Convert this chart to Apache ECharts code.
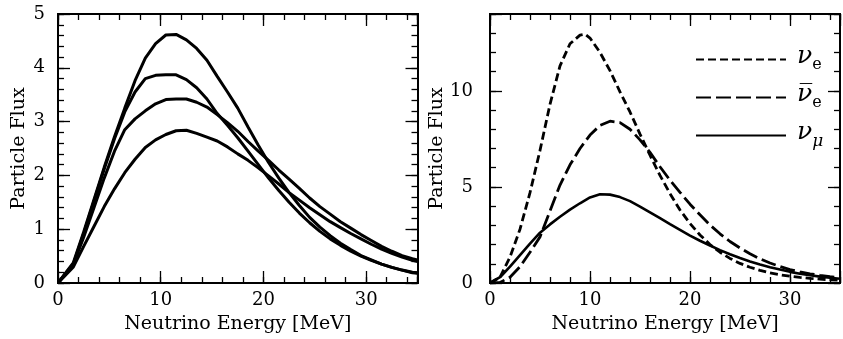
<!DOCTYPE html>
<html>
<head>
<meta charset="utf-8">
<script src="https://cdn.jsdelivr.net/npm/echarts@6/dist/echarts.min.js"></script>
<style>
html,body{margin:0;padding:0;background:#fff;}
#c{width:843px;height:339px;}
</style>
</head>
<body>
<div id="c"></div>
<script>
// ---- Left panel: four spectra, sampled at these energies (MeV) ----
var leftE = [0, 1.5, 2.5, 3.5, 4.5, 5.5, 6.5, 7.5, 8.5, 9.5, 10.5, 11.5, 12.5, 13.5, 14.5, 15.5, 16.5, 17.5, 18.5, 19.5, 20.5, 21.5, 22.5, 23.5, 24.5, 25.5, 26.5, 27.5, 28.5, 29.5, 30.5, 31.5, 32.5, 33.5, 34.5, 35];
var leftA = [0, 0.38, 0.95, 1.55, 2.15, 2.72, 3.25, 3.76, 4.18, 4.45, 4.61, 4.62, 4.52, 4.36, 4.14, 3.84, 3.55, 3.25, 2.90, 2.56, 2.24, 1.95, 1.68, 1.44, 1.22, 1.04, 0.88, 0.74, 0.62, 0.51, 0.43, 0.35, 0.29, 0.24, 0.19, 0.18];
var leftB = [0, 0.36, 0.92, 1.52, 2.12, 2.68, 3.18, 3.55, 3.80, 3.86, 3.87, 3.87, 3.78, 3.63, 3.42, 3.15, 2.93, 2.70, 2.45, 2.20, 1.95, 1.72, 1.50, 1.30, 1.12, 0.96, 0.82, 0.70, 0.59, 0.50, 0.42, 0.35, 0.29, 0.24, 0.20, 0.19];
var leftC = [0, 0.35, 0.85, 1.40, 1.95, 2.45, 2.85, 3.05, 3.20, 3.33, 3.41, 3.42, 3.42, 3.36, 3.27, 3.13, 2.98, 2.82, 2.63, 2.45, 2.28, 2.10, 1.93, 1.76, 1.58, 1.42, 1.28, 1.14, 1.02, 0.90, 0.79, 0.68, 0.59, 0.51, 0.45, 0.43];
var leftD = [0, 0.30, 0.68, 1.05, 1.42, 1.75, 2.05, 2.30, 2.52, 2.66, 2.76, 2.83, 2.84, 2.78, 2.71, 2.64, 2.53, 2.40, 2.28, 2.14, 1.99, 1.84, 1.68, 1.54, 1.40, 1.27, 1.14, 1.03, 0.92, 0.82, 0.72, 0.63, 0.55, 0.48, 0.42, 0.40];

// ---- Right panel: nu_e, anti-nu_e, nu_mu ----
var rightE = [0, 1, 2, 3, 4, 5, 6, 7, 8, 9, 9.5, 10, 11, 12, 13, 14, 15, 16, 17, 18, 19, 20, 21, 22, 23, 24, 25, 26, 27, 28, 29, 30, 31, 32, 33, 34, 35];
var nuE    = [0, 0.30, 1.35, 2.80, 4.70, 6.90, 9.30, 11.3, 12.45, 12.9, 12.95, 12.75, 12.0, 11.05, 9.95, 8.90, 7.75, 6.65, 5.60, 4.65, 3.80, 3.10, 2.50, 2.00, 1.60, 1.28, 1.02, 0.82, 0.66, 0.53, 0.43, 0.35, 0.29, 0.24, 0.20, 0.17, 0.14];
var nuEbar = [0, 0.03, 0.30, 0.85, 1.60, 2.40, 3.75, 5.10, 6.15, 7.00, 7.35, 7.70, 8.20, 8.42, 8.35, 8.00, 7.45, 6.80, 6.05, 5.35, 4.72, 4.10, 3.55, 3.02, 2.56, 2.16, 1.82, 1.52, 1.26, 1.04, 0.86, 0.70, 0.58, 0.48, 0.40, 0.33, 0.28];
var nuMu   = [0, 0.30, 0.85, 1.45, 2.05, 2.62, 3.05, 3.45, 3.82, 4.15, 4.30, 4.45, 4.62, 4.60, 4.47, 4.26, 3.98, 3.68, 3.38, 3.07, 2.77, 2.47, 2.20, 1.95, 1.71, 1.50, 1.30, 1.12, 0.96, 0.82, 0.70, 0.58, 0.48, 0.40, 0.33, 0.27, 0.22];

var xTicksMajor = 10, xTicksMinor = 2;
var leftYMajor = 1, leftYMinor = 0.2;
var rightYMajor = 5, rightYMinor = 1;
var xName = 'Neutrino Energy [MeV]';
var yName = 'Particle Flux';
var seriesNames = ['nue', 'nuebar', 'numu'];
var legendText = {
  nue: '{nu|\u03bd}{sub|e}',
  nuebar: '{nu|\u03bd\u0305}{sub|e}',
  numu: '{nu|\u03bd}{subi|\u03bc}'
};

function zip(xs, ys) { return xs.map(function (x, i) { return [x, ys[i]]; }); }

var FONT = 'DejaVu Serif';
var black = '#000';

function xAxes(grid, max) {
  var lbl = { show: true, color: black, fontFamily: FONT, fontSize: 18, margin: 8,
    formatter: function (v) { return (v % 10 === 0) ? String(v) : ''; } };
  var base = { type: 'value', gridIndex: grid, min: 0, max: max, splitLine: { show: false },
    axisLine: { show: true, onZero: false, lineStyle: { color: black, width: 2 } } };
  return [
    Object.assign({}, base, { position: 'bottom', interval: xTicksMajor,
      axisTick: { show: true, inside: true, length: 12, lineStyle: { color: black, width: 1.3 } },
      axisLabel: lbl, name: xName, nameLocation: 'middle', nameGap: 32,
      nameTextStyle: { color: black, fontFamily: FONT, fontSize: 19 } }),
    Object.assign({}, base, { position: 'bottom', interval: xTicksMinor,
      axisTick: { show: true, inside: true, length: 6, lineStyle: { color: black, width: 1.3 } },
      axisLabel: { show: false } }),
    Object.assign({}, base, { position: 'top', interval: xTicksMajor,
      axisTick: { show: true, inside: true, length: 12, lineStyle: { color: black, width: 1.3 } },
      axisLabel: { show: false } }),
    Object.assign({}, base, { position: 'top', interval: xTicksMinor,
      axisTick: { show: true, inside: true, length: 6, lineStyle: { color: black, width: 1.3 } },
      axisLabel: { show: false } })
  ];
}

function yAxes(grid, max, major, minor, labelMargin, nameGap) {
  var base = { type: 'value', gridIndex: grid, min: 0, max: max, splitLine: { show: false },
    axisLine: { show: true, onZero: false, lineStyle: { color: black, width: 2 } } };
  return [
    Object.assign({}, base, { position: 'left', interval: major,
      axisTick: { show: true, inside: true, length: 12, lineStyle: { color: black, width: 1.3 } },
      axisLabel: { show: true, color: black, fontFamily: FONT, fontSize: 18, margin: labelMargin,
        formatter: function (v) { return (Math.abs(v / major - Math.round(v / major)) < 1e-6) ? String(v) : ''; } },
      name: yName, nameLocation: 'middle', nameGap: nameGap, nameRotate: 90,
      nameTextStyle: { color: black, fontFamily: FONT, fontSize: 19 } }),
    Object.assign({}, base, { position: 'left', interval: minor,
      axisTick: { show: true, inside: true, length: 6, lineStyle: { color: black, width: 1.3 } },
      axisLabel: { show: false } }),
    Object.assign({}, base, { position: 'right', interval: major,
      axisTick: { show: true, inside: true, length: 12, lineStyle: { color: black, width: 1.3 } },
      axisLabel: { show: false } }),
    Object.assign({}, base, { position: 'right', interval: minor,
      axisTick: { show: true, inside: true, length: 6, lineStyle: { color: black, width: 1.3 } },
      axisLabel: { show: false } })
  ];
}

var xs = xAxes(0, 35).concat(xAxes(1, 35));
var ys = yAxes(0, 5, leftYMajor, leftYMinor, 13, 29).concat(yAxes(1, 14, rightYMajor, rightYMinor, 17, 39));

function lineSeries(name, data, xi, yi, type, width) {
  return {
    name: name, type: 'line', xAxisIndex: xi, yAxisIndex: yi, data: data,
    showSymbol: false, symbol: 'none', smooth: false, silent: true,
    itemStyle: { color: black },
    lineStyle: { color: black, width: width, type: type, cap: 'butt' }
  };
}

var option = {
  animation: false,
  backgroundColor: '#fff',
  grid: [
    { left: 58, top: 14, width: 359.5, height: 270, containLabel: false },
    { left: 490, top: 14, width: 359, height: 270, containLabel: false }
  ],
  xAxis: xs,
  yAxis: ys,
  legend: {
    data: seriesNames,
    orient: 'vertical',
    left: 690, top: 39,
    itemWidth: 90, itemHeight: 26, itemGap: 9,
    selectedMode: false,
    itemStyle: { color: 'rgba(0,0,0,0)', borderColor: 'rgba(0,0,0,0)', borderWidth: 0, opacity: 0 },
    formatter: function (n) { return legendText[n]; },
    textStyle: {
      color: black,
      rich: {
        nu: { fontFamily: FONT, fontStyle: 'italic', fontSize: 25, color: black, padding: [0, 0, 6, 6] },
        sub: { fontFamily: FONT, fontSize: 16, color: black, padding: [11, 0, 0, 0] },
        subi: { fontFamily: FONT, fontStyle: 'italic', fontSize: 17, color: black, padding: [12, 0, 0, 0] }
      }
    }
  },
  series: [
    lineSeries('A', zip(leftE, leftA), 0, 0, 'solid', 3),
    lineSeries('B', zip(leftE, leftB), 0, 0, 'solid', 3),
    lineSeries('C', zip(leftE, leftC), 0, 0, 'solid', 3),
    lineSeries('D', zip(leftE, leftD), 0, 0, 'solid', 3),
    lineSeries('nue', zip(rightE, nuE), 4, 4, [8, 4], 2.8),
    lineSeries('nuebar', zip(rightE, nuEbar), 4, 4, [15, 5], 2.8),
    lineSeries('numu', zip(rightE, nuMu), 4, 4, 'solid', 2.6)
  ]
};

var chart = echarts.init(document.getElementById('c'), null, { renderer: 'canvas' });
chart.setOption(option);
</script>
</body>
</html>
